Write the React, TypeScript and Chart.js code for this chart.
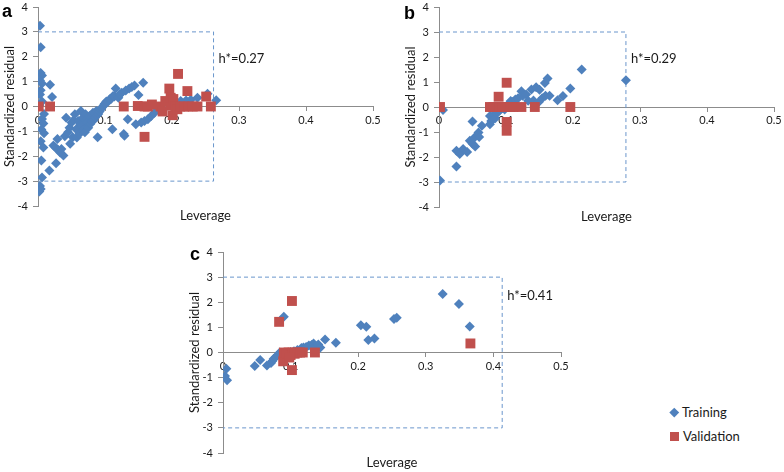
import React, { useEffect, useRef } from "react";
import { Chart, registerables } from "chart.js";

Chart.register(...registerables);

// ---------- DATA ----------
// Panel a
const trainingA: [number, number][] = [
  [0.003, 3.25], [0.004, 2.38], [0.004, 1.35], [0.006, 1.25], [0.003, 1.05], [0.006, 0.92], [0.004, 0.65],
  [0.003, 0.48], [0.006, 0.2], [0.002, 0.05], [0.009, -0.3], [0.006, -0.5], [0.008, -0.68], [0.005, -0.92],
  [0.009, -1.08], [0.004, -1.4], [0.008, -1.65], [0.005, -2.17], [0.006, -2.85], [0.003, -3.2], [0.004, -3.32],
  [0.002, -3.42], [0.018, 0.87], [0.021, 0.38],
  [0.017, -2.57], [0.027, -2.28], [0.023, -1.57], [0.026, -1.65], [0.029, -1.31], [0.03, -1.75], [0.035, -1.71],
  [0.038, -1.97], [0.033, -1.85], [0.04, -1.2], [0.042, -0.45], [0.045, -1.04], [0.047, -0.85], [0.048, -1.5],
  [0.05, -0.64], [0.052, -1.24], [0.053, -0.55], [0.055, -0.31], [0.057, -0.91], [0.058, -1.25], [0.06, -0.58],
  [0.062, -1.1], [0.063, -0.7], [0.064, -0.18], [0.065, -0.78], [0.067, -0.45], [0.068, -0.95], [0.07, -1.04],
  [0.071, -0.31], [0.072, -0.55], [0.073, -0.64], [0.075, -0.85], [0.077, -0.38], [0.078, -0.7], [0.08, -0.58],
  [0.082, -0.25], [0.083, -0.55], [0.085, -0.45], [0.087, -0.18], [0.088, -0.35], [0.089, -1.24], [0.09, -0.3],
  [0.092, -0.2], [0.094, -0.11], [0.095, -0.05], [0.097, 0.0], [0.099, 0.09], [0.1, 0.12], [0.102, 0.2],
  [0.104, 0.18], [0.107, 0.29], [0.109, 0.3], [0.112, 0.42], [0.111, -0.91], [0.114, 0.4], [0.116, 0.72],
  [0.12, 0.35], [0.122, 0.48], [0.125, 0.55], [0.128, -1.11], [0.129, -1.18], [0.131, 0.64], [0.134, -0.51],
  [0.136, 0.72], [0.14, 0.78], [0.144, 0.84], [0.146, -0.71], [0.15, 0.46], [0.154, -0.64], [0.157, 0.95],
  [0.159, -0.58], [0.164, -0.51], [0.169, -0.38], [0.174, -0.25], [0.182, -0.05], [0.186, -0.15],
  [0.213, 0.22], [0.221, 0.24], [0.228, 0.27], [0.238, 0.35], [0.253, 0.51], [0.266, 0.25],
];
const validationA: [number, number][] = [
  [0.001, 0], [0.018, 0], [0.128, 0], [0.149, 0.02], [0.159, 0.0], [0.164, 0], [0.17, 0.08], [0.183, 0.0],
  [0.186, -0.2], [0.19, 0.22], [0.196, 0.72], [0.198, 0.05], [0.198, 0.35], [0.202, 0.3], [0.201, -0.35],
  [0.205, 0], [0.208, -0.11], [0.209, 1.31], [0.212, 0], [0.218, 0], [0.223, 0.62], [0.224, 0], [0.231, 0],
  [0.238, 0], [0.251, 0.4], [0.258, 0], [0.159, -1.22],
];

// Panel b
const trainingB: [number, number][] = [
  [0.0015, -2.94], [0.006, -0.12], [0.026, -1.75], [0.026, -2.38], [0.031, -1.88], [0.036, -1.68], [0.042, -1.8],
  [0.05, -0.58], [0.046, -1.35], [0.05, -1.47], [0.053, -1.22], [0.054, -1.58], [0.059, -1.02], [0.06, -1.2],
  [0.064, -0.75], [0.076, -0.36], [0.076, -0.69], [0.078, -0.56], [0.08, -0.5], [0.082, -0.3], [0.084, -0.45],
  [0.086, -0.25], [0.088, -0.2], [0.09, -0.15], [0.094, -0.05], [0.098, -0.1], [0.103, 0.1], [0.107, 0.24],
  [0.11, 0.2], [0.114, 0.3], [0.118, 0.35], [0.123, 0.63], [0.125, 0.45], [0.13, 0.5], [0.133, 0.25],
  [0.138, 0.7], [0.141, 0.26], [0.145, 0.79], [0.149, 0.2], [0.15, 0.69], [0.154, 0.35], [0.158, 0.96],
  [0.162, 1.14], [0.159, 0.45], [0.165, 0.45], [0.177, 0.27], [0.185, 0.44], [0.196, 0.74], [0.213, 1.5],
  [0.279, 1.07],
];
const validationB: [number, number][] = [
  [0.0015, 0], [0.076, 0], [0.081, 0], [0.085, 0], [0.089, 0.41], [0.09, 0], [0.094, 0], [0.098, 0],
  [0.101, 0.97], [0.101, -0.6], [0.101, -0.95], [0.103, 0], [0.107, 0], [0.111, 0], [0.123, 0], [0.143, 0],
  [0.196, 0],
];

// Panel c
const trainingC: [number, number][] = [
  [0.005, -0.65], [0.003, -0.94], [0.006, -1.1], [0.047, -0.54], [0.055, -0.3], [0.065, -0.52], [0.071, -0.42],
  [0.073, -0.34], [0.075, -0.25], [0.078, -0.18], [0.081, -0.1], [0.084, 0.0], [0.09, 1.42], [0.1, 0.02],
  [0.105, 0.05], [0.11, 0.1], [0.116, 0.18], [0.119, 0.2], [0.123, 0.22], [0.127, 0.28], [0.131, 0.3],
  [0.134, 0.36], [0.137, 0.25], [0.141, 0.32], [0.144, 0.2], [0.151, 0.52], [0.167, 0.39], [0.204, 1.08],
  [0.212, 1.02], [0.215, 0.5], [0.224, 0.56], [0.253, 1.33], [0.257, 1.38], [0.325, 2.33], [0.349, 1.93],
  [0.365, 1.03],
];
const validationC: [number, number][] = [
  [0.083, 1.22], [0.102, 2.05], [0.089, -0.35], [0.102, -0.7], [0.09, 0.0], [0.094, -0.05], [0.097, 0.0],
  [0.1, -0.1], [0.103, 0.0], [0.106, -0.05], [0.11, 0.0], [0.114, 0.0], [0.118, 0.0], [0.098, -0.2],
  [0.136, 0.0], [0.366, 0.36],
];

// warning limits and labels
const panelLetters = ["a", "b", "c"];
const hStarLabels = ["h*=0.27", "h*=0.29", "h*=0.41"];
const hStarLines = [0.262, 0.279, 0.413];
const residualLimit = 3;
const xTickRange = [0, 0.5, 0.1];
const yTickRange = [-4, 4, 1];
const seriesNames = ["Training", "Validation"];
const xTitle = "Leverage";
const yTitle = "Standardized residual";

// ---------- STYLE ----------
const BLUE = "#4F81BD";
const RED = "#C0504D";
const DASH = "#6A96CC";
const AXIS = "#8C8C8C";
const TEXT = "#1a1a1a";
const FONT = "Lato, 'Open Sans', sans-serif";

type PanelLayout = {
  left: number; top: number; w: number; h: number; padTop: number; padRight: number;
  letterDx: number; letterDy: number; hLabelY: number;
};

const layouts: PanelLayout[] = [
  { left: 0, top: 0, w: 383, h: 226, padTop: 5, padRight: 10, letterDx: -36, letterDy: 10, hLabelY: 1.93 },
  { left: 401, top: 0, w: 383, h: 227, padTop: 6, padRight: 10, letterDx: -35, letterDy: 12, hLabelY: 1.94 },
  { left: 185, top: 245, w: 386, h: 228, padTop: 6, padRight: 10, letterDx: -33, letterDy: 8, hLabelY: 2.26 },
];

const textPlugin = {
  id: "panelText",
  afterDraw(chart: any, _args: any, opts: any) {
    const { ctx, chartArea, scales } = chart;
    ctx.save();
    ctx.fillStyle = "#000";
    ctx.font = "bold 18px 'Liberation Sans', Arial, sans-serif";
    ctx.textAlign = "left";
    ctx.textBaseline = "alphabetic";
    ctx.fillText(opts.letter, chartArea.left + opts.letterDx, chartArea.top + opts.letterDy);
    ctx.font = `13px ${FONT}`;
    ctx.fillStyle = TEXT;
    ctx.textBaseline = "middle";
    ctx.fillText(opts.hLabel, scales.x.getPixelForValue(opts.hX) + 5, scales.y.getPixelForValue(opts.hY));
    ctx.restore();
  },
};

function toPts(arr: [number, number][]) {
  return arr.map(([x, y]) => ({ x, y }));
}

function Panel({ idx, training, validation }: { idx: number; training: [number, number][]; validation: [number, number][] }) {
  const ref = useRef<HTMLCanvasElement>(null);
  const L = layouts[idx];
  useEffect(() => {
    const h = hStarLines[idx];
    const box = [
      { x: 0, y: residualLimit }, { x: h, y: residualLimit }, { x: h, y: -residualLimit }, { x: 0, y: -residualLimit },
    ];
    const chart = new Chart(ref.current!, {
      type: "scatter",
      data: {
        datasets: [
          {
            label: seriesNames[0], data: toPts(training), pointStyle: "rectRot", pointRadius: 5,
            backgroundColor: BLUE, borderColor: BLUE, borderWidth: 0, order: 2,
          },
          {
            label: seriesNames[1], data: toPts(validation), pointStyle: "rect", pointRadius: 7,
            backgroundColor: RED, borderColor: RED, borderWidth: 0, order: 1,
          },
          {
            label: "limits", data: box, showLine: true, pointRadius: 0, borderColor: DASH, borderWidth: 1,
            borderDash: [4, 3], fill: false, order: 3,
          } as any,
        ],
      },
      options: {
        animation: false,
        responsive: false,
        devicePixelRatio: 1,
        layout: { padding: { top: L.padTop, right: L.padRight, left: 0, bottom: 0 } },
        plugins: {
          legend: { display: false },
          tooltip: { enabled: false },
          panelText: {
            letter: panelLetters[idx], hLabel: hStarLabels[idx], hX: h, hY: L.hLabelY,
            letterDx: L.letterDx, letterDy: L.letterDy,
          },
        } as any,
        scales: {
          x: {
            type: "linear", min: xTickRange[0], max: xTickRange[1], position: { y: 0 } as any,
            ticks: { stepSize: xTickRange[2], font: { family: FONT, size: 11 }, color: TEXT, padding: 3, maxRotation: 0, autoSkip: false },
            grid: { display: true, drawOnChartArea: false, drawTicks: true, tickLength: 4, color: AXIS },
            border: { display: true, color: AXIS, width: 1 },
            afterFit: (s: any) => { s.paddingLeft = 0; s.paddingRight = 0; },
          },
          x2: {
            type: "linear", position: "bottom", min: xTickRange[0], max: xTickRange[1],
            ticks: { display: false },
            grid: { display: false, drawTicks: false },
            border: { display: false },
            title: { display: true, text: xTitle, font: { family: FONT, size: 13 }, color: TEXT, padding: { top: 0, bottom: 2 } },
            afterFit: (s: any) => { s.height = 20; s.paddingLeft = 0; s.paddingRight = 0; },
          },
          y: {
            type: "linear", min: yTickRange[0], max: yTickRange[1], position: "left",
            ticks: { stepSize: yTickRange[2], font: { family: FONT, size: 11 }, color: TEXT, padding: 5 },
            grid: { display: true, drawOnChartArea: false, drawTicks: true, tickLength: 5, color: AXIS },
            border: { display: true, color: AXIS, width: 1 },
            title: { display: true, text: yTitle, font: { family: FONT, size: 13 }, color: TEXT, padding: { top: 2, bottom: 0 } },
            afterFit: (s: any) => { s.width = 38; s.paddingTop = 0; s.paddingBottom = 0; },
          },
        } as any,
      },
      plugins: [textPlugin as any],
    });
    return () => chart.destroy();
  }, []);
  return (
    <canvas
      ref={ref}
      width={L.w}
      height={L.h}
      style={{ position: "absolute", left: L.left, top: L.top, width: L.w, height: L.h }}
    />
  );
}

export default function App() {
  return (
    <div style={{ position: "fixed", left: 0, top: 0, width: 784, height: 472, overflow: "hidden", background: "#fff" }}>
      <Panel idx={0} training={trainingA} validation={validationA} />
      <Panel idx={1} training={trainingB} validation={validationB} />
      <Panel idx={2} training={trainingC} validation={validationC} />
      <div style={{ position: "absolute", left: 671, top: 409, width: 6.5, height: 6.5, background: BLUE, transform: "rotate(45deg)" }} />
      <span style={{ position: "absolute", left: 682, top: 404, font: `13px ${FONT}`, lineHeight: "17px", color: TEXT }}>{seriesNames[0]}</span>
      <div style={{ position: "absolute", left: 670, top: 432, width: 9, height: 9, background: RED }} />
      <span style={{ position: "absolute", left: 683, top: 428, font: `13px ${FONT}`, lineHeight: "17px", color: TEXT }}>{seriesNames[1]}</span>
    </div>
  );
}
